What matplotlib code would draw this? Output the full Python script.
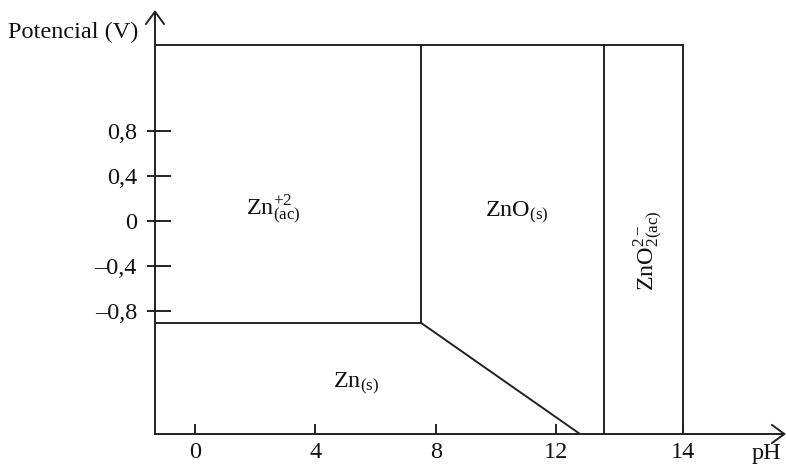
import matplotlib
matplotlib.use("Agg")
import matplotlib.pyplot as plt

# ---- data (in the drawn coordinate system of the schematic) ----
y_tick_vals = [-0.8, -0.4, 0.0, 0.4, 0.8]
y_tick_labels = ["\u20130,8", "\u20130,4", "0", "0,4", "0,8"]
x_tick_pos = [0, 4, 8, 12, 16.2]
x_tick_labels = ["0", "4", "8", "12", "14"]

x_axis0 = -1.33          # pH where y axis sits
y_axis0 = -1.885         # potential where x axis sits
y_top = 1.56             # top boundary line
y_zn = -0.90             # Zn / Zn2+ boundary
x_zn2_zno = 7.5          # Zn2+ / ZnO boundary
x_zno_zno2 = 13.6        # ZnO / ZnO2 2- boundary
x_right = 16.2           # right edge (labelled 14)
diag_x = [7.5, 12.79]
diag_y = [-0.90, -1.885]

labels = [
    (2.6, 0.10, r"Zn$^{+2}_{\mathrm{(ac)}}$", 0),
    (10.7, 0.07, r"ZnO$_{\mathrm{(s)}}$", 0),
    (5.35, -1.44, r"Zn$_{\mathrm{(s)}}$", 0),
    (15.08, -0.26, r"ZnO$^{2-}_{2\mathrm{(ac)}}$", 90),
]

plt.rcParams["font.family"] = ["Liberation Serif", "DejaVu Serif"]
plt.rcParams["mathtext.fontset"] = "custom"
plt.rcParams["mathtext.rm"] = "Liberation Serif"
plt.rcParams["mathtext.it"] = "Liberation Serif:italic"
plt.rcParams["mathtext.bf"] = "Liberation Serif:bold"

W, H = 786, 468
fig = plt.figure(figsize=(W / 100, H / 100), dpi=100)
fig.patch.set_facecolor("white")

px_left, px_right, px_bottom, px_top = 155, 786, 434, 10
ax = fig.add_axes([px_left / W, (H - px_bottom) / H,
                   (px_right - px_left) / W, (px_bottom - px_top) / H])
sx = 30.1   # px per pH unit
sy = 113.0  # px per volt
ax.set_xlim(x_axis0, x_axis0 + (px_right - px_left) / sx)
ax.set_ylim(y_axis0, y_axis0 + (px_bottom - px_top) / sy)
for s in ax.spines.values():
    s.set_visible(False)

lc = "#222222"
tc = "#111111"
lw = 1.4
# axes arrows
arrow_kw = dict(arrowstyle="->,head_length=0.45,head_width=0.33", lw=lw,
                color=lc, shrinkA=0, shrinkB=0, mutation_scale=20)
ax.annotate("", xy=(0, 1), xytext=(0, 0), xycoords="axes fraction",
            textcoords="axes fraction", arrowprops=arrow_kw, annotation_clip=False)
ax.annotate("", xy=(1, 0), xytext=(0, 0), xycoords="axes fraction",
            textcoords="axes fraction", arrowprops=arrow_kw, annotation_clip=False)

# boundaries
ax.plot([x_axis0, x_right], [y_top, y_top], color=lc, lw=lw)
ax.plot([x_axis0, x_zn2_zno], [y_zn, y_zn], color=lc, lw=lw)
ax.plot([x_zn2_zno, x_zn2_zno], [y_zn, y_top], color=lc, lw=lw)
ax.plot([x_zno_zno2, x_zno_zno2], [y_axis0, y_top], color=lc, lw=lw)
ax.plot([x_right, x_right], [y_axis0, y_top], color=lc, lw=lw)
ax.plot(diag_x, diag_y, color=lc, lw=lw)

fs = 17.5
for x, y, t, rot in labels:
    ax.text(x, y, t, fontsize=fs, ha="center", va="center", rotation=rot, color=tc)

# ticks
ax.set_yticks(y_tick_vals)
ax.set_yticklabels(y_tick_labels)
ax.set_yticks(y_tick_vals, minor=True)
ax.yaxis.remove_overlapping_locs = False
ax.tick_params(axis="y", which="major", direction="in", length=11.5, width=lw,
               color=lc, labelsize=fs, pad=13, labelcolor=tc)
ax.tick_params(axis="y", which="minor", direction="out", length=5.8, width=lw,
               color=lc)
ax.set_xticks(x_tick_pos)
ax.set_xticklabels(x_tick_labels)
ax.tick_params(axis="x", which="major", direction="in", length=7, width=lw,
               color=lc, labelsize=fs, pad=6, labelcolor=tc)
ax.tick_params(axis="x", which="minor", length=0)

ax.text(18.98, -1.965, "pH", fontsize=fs, ha="center", va="top", clip_on=False,
        color=tc)
ax.text(-4.05, 1.67, "Potencial (V)", fontsize=fs, ha="center", va="center",
        clip_on=False, color=tc)

fig.savefig("out.png", dpi=100, facecolor="white")
